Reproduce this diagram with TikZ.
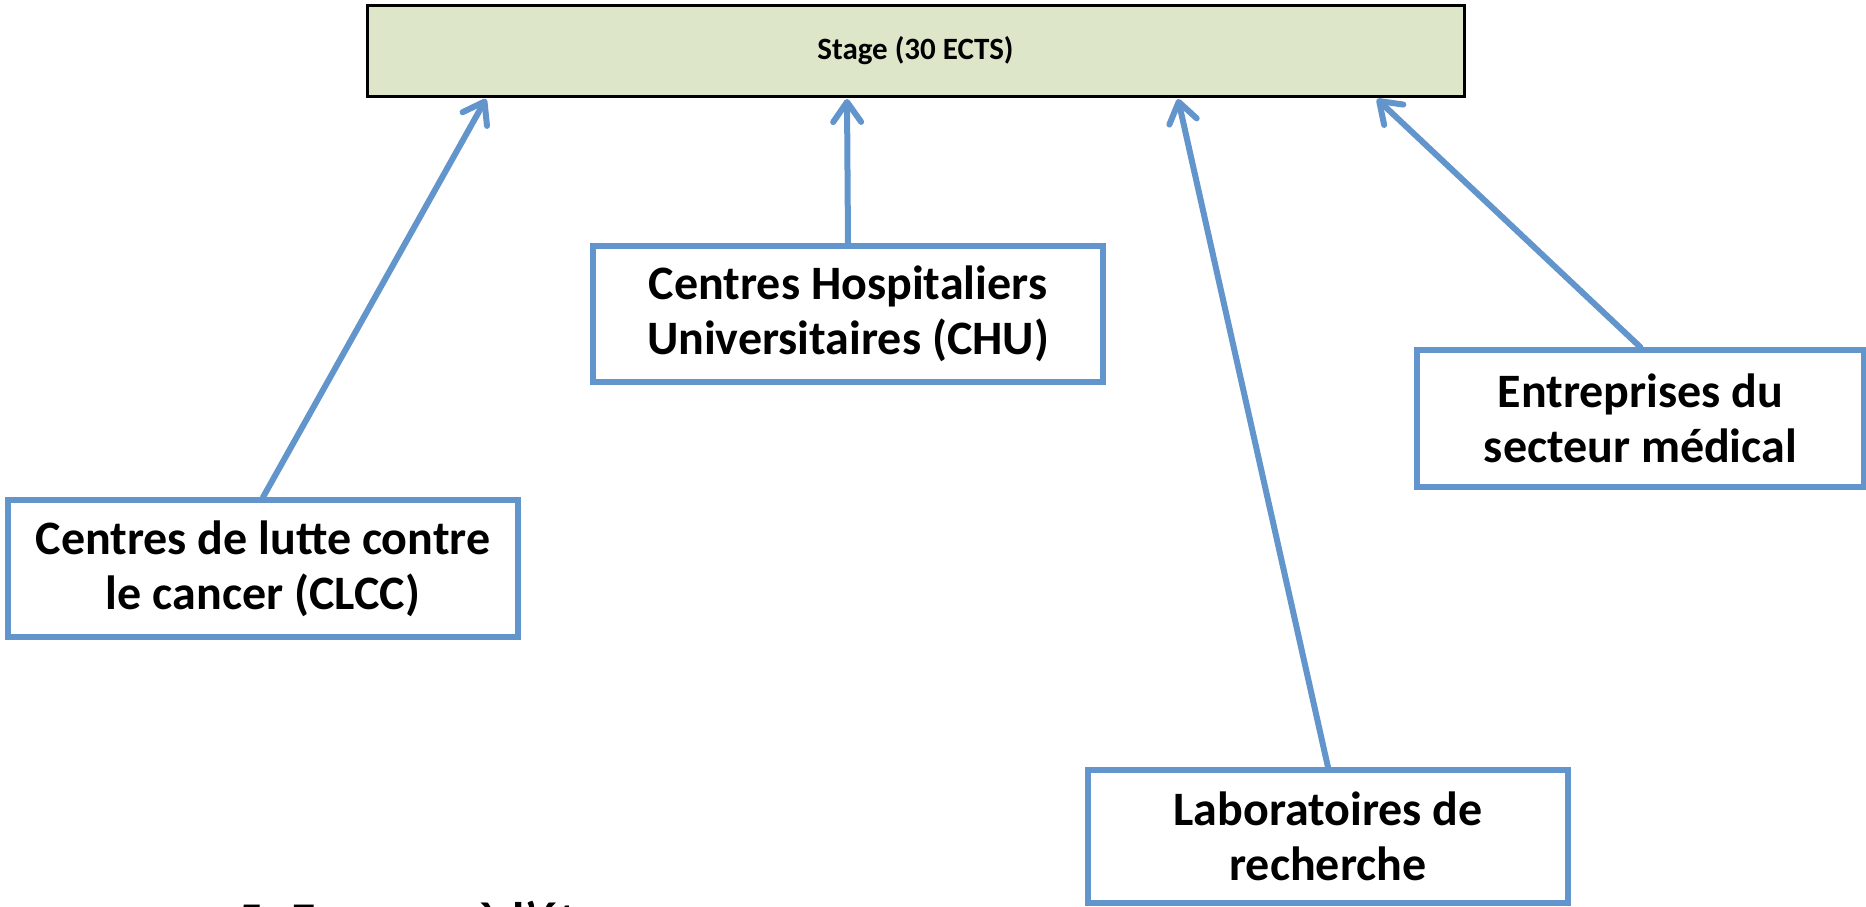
\documentclass[tikz,border=0pt]{standalone}
\usepackage{fontspec}
\setmainfont{Carlito}
\usetikzlibrary{arrows.meta}
\definecolor{lienbleu}{RGB}{98,149,203}
\definecolor{vertpale}{RGB}{222,230,201}
\tikzset{
  lieu/.style={draw=lienbleu, line width=5.5pt, fill=white, align=center,
    font=\fontsize{48}{55}\selectfont\bfseries, inner sep=0pt},
  fleche/.style={draw=lienbleu, line width=6pt, line cap=round,
    -{Straight Barb[length=20pt,width=28pt,line cap=round,line join=round]}}
}

\begin{document}
\begin{tikzpicture}[x=1pt,y=-1pt]
  \useasboundingbox (0,0) rectangle (1866,907);
  \clip (0,0) rectangle (1866,907);
  % stage
  \node[draw=black, line width=3pt, fill=vertpale, minimum width=1097pt, minimum height=90pt,
    font=\fontsize{31}{34}\selectfont\bfseries] (stage) at (915.5,51) {Stage (30 ECTS)};
  \coordinate (t1) at (486,99); \coordinate (t2) at (847,99);
  \coordinate (t3) at (1178,99); \coordinate (t4) at (1377,99);
  % lieux
  \node[lieu, minimum width=510pt, minimum height=136pt] (chu) at (848,314) {Centres Hospitaliers\\Universitaires (CHU)};
  \node[lieu, minimum width=447pt, minimum height=137pt] (entr) at (1640.5,418.5) {Entreprises du\\secteur médical};
  \node[lieu, minimum width=510pt, minimum height=137pt] (clcc) at (263,568.5) {Centres de lutte contre\\le cancer (CLCC)};
  \node[lieu, minimum width=480pt, minimum height=133pt] (labo) at (1328,836.5) {Laboratoires de\\recherche};
  \draw[fleche] (clcc.north) -- (t1);
  \draw[fleche] (chu.north) -- (t2);
  \draw[fleche] (labo.north) -- (t3);
  \draw[fleche] (entr.north) -- (t4);
  % titre coupe en bas
  \node[anchor=base west, inner sep=0pt, font=\fontsize{50}{50}\selectfont\bfseries] (titre) at (238,937) {5. Erasmus à l'étranger};
\end{tikzpicture}
\end{document}
